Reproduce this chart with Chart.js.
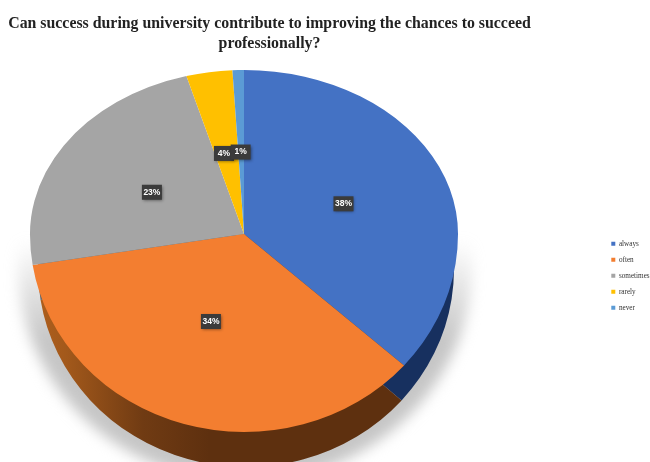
<!DOCTYPE html>
<html><head><meta charset="utf-8">
<style>html,body{margin:0;padding:0;background:#fff;overflow:hidden}#w{width:650px;height:462px;position:relative}canvas{filter:blur(0.45px)}</style>
<script src="https://cdn.jsdelivr.net/npm/chart.js@4/dist/chart.umd.min.js"></script>
</head><body><div id="w"><canvas id="c" width="650" height="462"></canvas></div>
<script>
const titleLines = ['Can success during university contribute to improving the chances to succeed','professionally?'];
const categories = ['always','often','sometimes','rarely','never'];
const shares = [38,34,23,4,1];
const topColors = ['#4472c4','#f37e30','#a5a5a5','#ffc000','#5b9bd5'];
const sideColors = ['#17305f','#5e300f','#636363','#997300','#2e5f8c'];

// Where the tilted disc sits on the page
const disc = {cx:244, cy:234, rx:214, ryUp:164, ryDown:198, wallCx:246, wallRx:208, depth:35, squeezeUp:0.86, stretchDown:1.2, labelDown:184};

function place(ctx, arc, cx, rx, ry){
  ctx.translate(cx, disc.cy);
  ctx.scale(rx/arc.outerRadius, ry/arc.outerRadius);
  ctx.translate(-arc.x, -arc.y);
}
// perspective foreshortening of an angle (0 = twelve o'clock, clockwise)
function warp(a){
  const t = a + Math.PI/2, s = Math.sin(t), u = Math.cos(t);
  let r = Math.atan2(s*(u>0?disc.squeezeUp:disc.stretchDown), u);
  if (r < -1e-6) r += Math.PI*2;
  return r - Math.PI/2;
}
const tiltPlugin = {
  id:'tilt',
  afterLayout(chart){
    const t = chart.titleBlock;
    t.left = 0; t.right = 539; t.top = 13;
    const l = chart.legend, w = l.right - l.left, colH = l.columnSizes[0].height;
    l.left = 602.5; l.right = l.left + w + 20; l.top = 231; l.bottom = l.top + 8.5 + colH + 1;
  },
  beforeDatasetDraw(chart, args){
    const ctx = chart.ctx, meta = args.meta, arcs = meta.data, a0 = arcs[0];
    const W = chart.width, H = chart.height;

    // soft ground shadow
    ctx.save();
    ctx.filter = 'blur(7px)';
    const g = ctx.createLinearGradient(0,240,0,340);
    g.addColorStop(0,'rgba(198,198,198,0)');
    g.addColorStop(1,'rgba(198,198,198,1)');
    ctx.fillStyle = g;
    ctx.beginPath();
    ctx.ellipse(disc.cx+1, disc.cy+32, disc.rx+13, disc.ryDown+18, 0, 0, Math.PI*2);
    ctx.fill();
    ctx.restore();

    // foreshortened view of every slice, only while drawing
    const saved = arcs.map(a=>({s:a.startAngle,e:a.endAngle,c:a.circumference}));
    arcs.forEach(a=>{
      const s = warp(a.startAngle); let e = warp(a.endAngle);
      if (e <= s) e += Math.PI*2;
      a.startAngle = s; a.endAngle = e; a.circumference = e - s;
    });

    // side wall: the same arcs, shifted down and darkened
    const sg = ctx.createLinearGradient(38,0,260,0);
    sg.addColorStop(0,'#c2681f');
    sg.addColorStop(0.35,'#a3591b');
    sg.addColorStop(0.7,'#703b13');
    sg.addColorStop(1,sideColors[1]);
    ctx.save();
    ctx.beginPath(); ctx.rect(0,disc.cy,W,H-disc.cy); ctx.clip();
    ctx.translate(0,disc.depth);
    ctx.save();
    place(ctx,a0,disc.wallCx,disc.wallRx,disc.ryDown);
    arcs.forEach((arc,i)=>{
      const o = arc.options;
      arc.options = Object.assign({},o,{backgroundColor:i===1?sg:sideColors[i]});
      arc.draw(ctx);
      arc.options = o;
    });
    ctx.restore();
    ctx.restore();

    // top face: upper and lower halves
    ctx.save();
    ctx.beginPath(); ctx.rect(0,0,W,disc.cy+0.5); ctx.clip();
    place(ctx,a0,disc.cx,disc.rx,disc.ryUp);
    meta.controller.draw();
    ctx.restore();
    ctx.save();
    ctx.beginPath(); ctx.rect(0,disc.cy,W,H-disc.cy); ctx.clip();
    place(ctx,a0,disc.cx,disc.rx,disc.ryDown);
    meta.controller.draw();
    ctx.restore();

    arcs.forEach((a,i)=>{a.startAngle=saved[i].s;a.endAngle=saved[i].e;a.circumference=saved[i].c;});
    return false;
  },
  afterDatasetsDraw(chart){
    const ctx = chart.ctx, arcs = chart.getDatasetMeta(0).data;
    const pts = arcs.map(arc=>{
      const p = arc.tooltipPosition();
      const dx = (p.x-arc.x)/arc.outerRadius, dy = (p.y-arc.y)/arc.outerRadius;
      return {x:disc.cx+dx*disc.rx, y:disc.cy+dy*(dy<0?disc.ryUp:disc.labelDown)};
    });
    ctx.save();
    pts.forEach(p=>{
      ctx.save();
      ctx.shadowColor='rgba(0,0,0,.45)'; ctx.shadowBlur=3; ctx.shadowOffsetX=1; ctx.shadowOffsetY=1;
      ctx.fillStyle='#3b3b3b';
      ctx.fillRect(p.x-10,p.y-7.5,20,15);
      ctx.restore();
    });
    ctx.fillStyle='#fff';
    ctx.font='bold 8.5px "Liberation Sans"';
    ctx.textAlign='center'; ctx.textBaseline='middle';
    pts.forEach((p,i)=>ctx.fillText(shares[i]+'%',p.x,p.y));
    ctx.restore();
  }
};

new Chart(document.getElementById('c'),{
  type:'pie',
  data:{labels:categories,datasets:[{data:shares,backgroundColor:topColors,borderWidth:0}]},
  plugins:[tiltPlugin],
  options:{
    responsive:false,animation:false,devicePixelRatio:1,
    plugins:{
      tooltip:{enabled:false},
      title:{display:true,text:titleLines,color:'#222',padding:{top:0,bottom:4},
        font:{family:'"Liberation Serif"',size:15.85,weight:'bold',lineHeight:1.32}},
      legend:{position:'right',
        labels:{boxWidth:4,boxHeight:4,padding:8.8,color:'#333',
          font:{family:'"Liberation Serif"',size:7.2}}}
    }
  }
});
</script></body></html>
